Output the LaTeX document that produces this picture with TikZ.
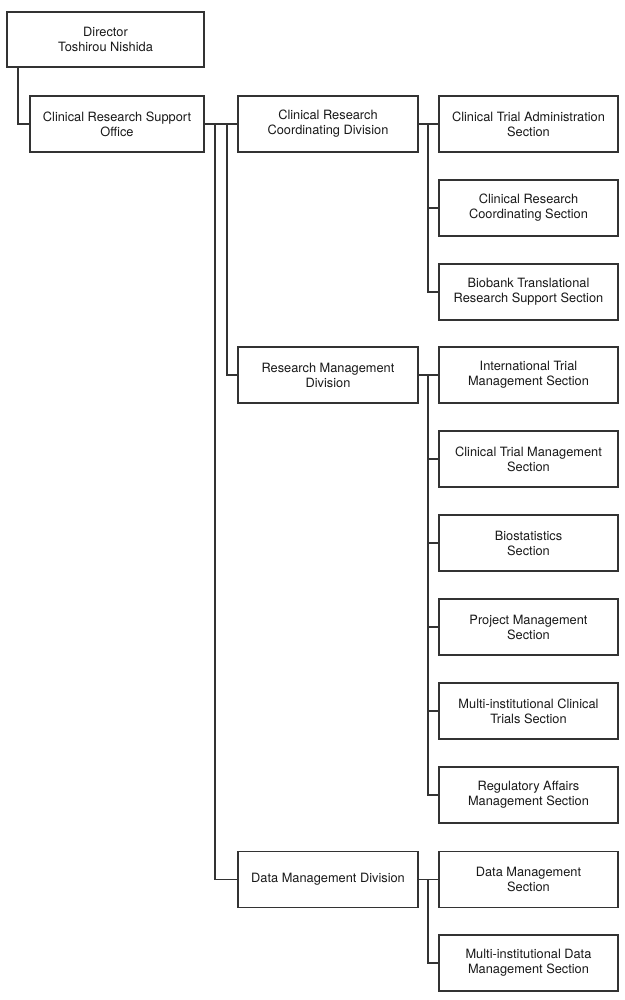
\documentclass[tikz,border=0pt]{standalone}
\usepackage{fontspec}
\setmainfont{TeX Gyre Heros}
\begin{document}
\begin{tikzpicture}[x=0.75pt,y=-0.75pt,
  box/.style={draw=black!80,line width=0.8pt,fill=white,inner sep=0pt,align=center,
    font=\fontsize{9.6}{11.2}\selectfont,text=black!90},
  dirbox/.style={box,minimum width=147.75pt,minimum height=41.25pt},
  offbox/.style={box,minimum width=130.5pt,minimum height=42pt},
  divbox/.style={box,minimum width=135pt,minimum height=42pt},
  secbox/.style={box,minimum width=134.25pt,minimum height=42pt},
  link/.style={draw=black!80,line width=0.8pt}]
\useasboundingbox (0,0) rectangle (625,1000);
\node[dirbox] (dir) at (105.5,39.5) {Director\\Toshirou Nishida};
\node[offbox] (off) at (117,124) {Clinical Research Support\\Office};
\node[divbox] (crc) at (328,124) {Clinical Research\\Coordinating Division};
\node[divbox] (rm) at (328,375) {Research Management\\Division};
\node[divbox] (dm) at (328,879.5) {Data Management Division};
\node[secbox] (cta) at (528.5,124) {Clinical Trial Administration\\Section};
\node[secbox] (crcs) at (528.5,208) {Clinical Research\\Coordinating Section};
\node[secbox] (bio) at (528.5,292) {Biobank Translational\\Research Support Section};
\node[secbox] (itm) at (528.5,375) {International Trial\\Management Section};
\node[secbox] (ctm) at (528.5,459) {Clinical Trial Management\\Section};
\node[secbox] (bst) at (528.5,543) {Biostatistics\\Section};
\node[secbox] (pm) at (528.5,627) {Project Management\\Section};
\node[secbox] (mict) at (528.5,711) {Multi-institutional Clinical\\Trials Section};
\node[secbox] (ram) at (528.5,795) {Regulatory Affairs\\Management Section};
\node[secbox] (dms) at (528.5,879.5) {Data Management\\Section};
\node[secbox] (mids) at (528.5,963) {Multi-institutional Data\\Management Section};
\coordinate (d0) at (18,67);
\coordinate (j1) at (215,124);
\coordinate (j2) at (227,124);
\coordinate (k1) at (428,124);
\coordinate (k2) at (428,375);
\coordinate (k3) at (428,879.5);
\path[link] (d0) |- (off.west);
\path[link] (off.east) -- (crc.west);
\path[link] (j1) |- (dm.west);
\path[link] (j2) |- (rm.west);
\path[link] (crc.east) -- (cta.west);
\path[link] (k1) |- (crcs.west);
\path[link] (k1) |- (bio.west);
\path[link] (rm.east) -- (itm.west);
\path[link] (k2) |- (ctm.west);
\path[link] (k2) |- (bst.west);
\path[link] (k2) |- (pm.west);
\path[link] (k2) |- (mict.west);
\path[link] (k2) |- (ram.west);
\path[link] (dm.east) -- (dms.west);
\path[link] (k3) |- (mids.west);
\end{tikzpicture}
\end{document}
